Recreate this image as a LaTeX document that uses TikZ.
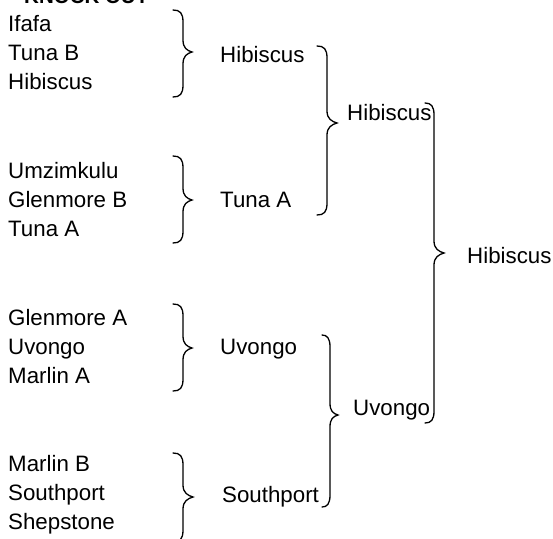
\documentclass[tikz,border=0pt]{standalone}
\usepackage{fontspec}
\setmainfont{Liberation Sans}
\newcommand{\kobrace}[6]{%
  \draw[bracestyle] (#1,#4) .. controls (#2-3,#4) and (#2,#4+3) .. (#2,#4+12)
    -- (#2,#5-12) .. controls (#2,#5-4) and (#3-5,#5-1.5) .. (#3,#5)
    .. controls (#3-5,#5+1.5) and (#2,#5+4) .. (#2,#5+12)
    -- (#2,#6-12) .. controls (#2,#6-3) and (#2-3,#6) .. (#1,#6);}
\begin{document}
\begin{tikzpicture}[x=1pt,y=-1pt,
  team/.style={anchor=base west,inner sep=0pt,font=\fontsize{22.3pt}{26pt}\selectfont},
  titlestyle/.style={anchor=base west,inner sep=0pt,font=\fontsize{20.5pt}{24pt}\selectfont\bfseries},
  bracestyle/.style={line width=1.3pt,black,line cap=round}]
\useasboundingbox (0,0) rectangle (553,538);
\clip (0,0) rectangle (553,538);
\fill[white] (0,0) rectangle (553,538);
\node[titlestyle] (title) at (24,3.5) {KNOCK OUT};
% round 1 teams
\node[team] (a1) at (8,31) {Ifafa};
\node[team] (a2) at (8,60.5) {Tuna B};
\node[team] (a3) at (8,89.5) {Hibiscus};
\node[team] (b1) at (8,178) {Umzimkulu};
\node[team] (b2) at (8,207) {Glenmore B};
\node[team] (b3) at (8,236) {Tuna A};
\node[team] (c1) at (8,325) {Glenmore A};
\node[team] (c2) at (8,354) {Uvongo};
\node[team] (c3) at (8,383) {Marlin A};
\node[team] (d1) at (8,471) {Marlin B};
\node[team] (d2) at (8,500) {Southport};
\node[team] (d3) at (8,529) {Shepstone};
% round 1 braces
\kobrace{173}{183}{192}{10}{52}{97}
\kobrace{173}{183}{192}{156}{200}{243}
\kobrace{173}{183}{192}{304}{348}{391}
\kobrace{173}{183}{193}{453}{497}{542}
% round 2 teams
\node[team] (w1) at (220,62) {Hibiscus};
\node[team] (w2) at (220,207) {Tuna A};
\node[team] (w3) at (220,354) {Uvongo};
\node[team] (w4) at (222,502) {Southport};
% round 2 braces
\kobrace{317}{327}{337}{46}{123}{215}
\kobrace{322}{330}{338}{335}{415}{507}
% semi-final winners
\node[team] (s1) at (347,120) {Hibiscus};
\node[team] (s2) at (353,415) {Uvongo};
% final brace
\kobrace{425}{434}{444}{103}{253}{423}
\node[team] (f) at (467,263) {Hibiscus};
\end{tikzpicture}
\end{document}
